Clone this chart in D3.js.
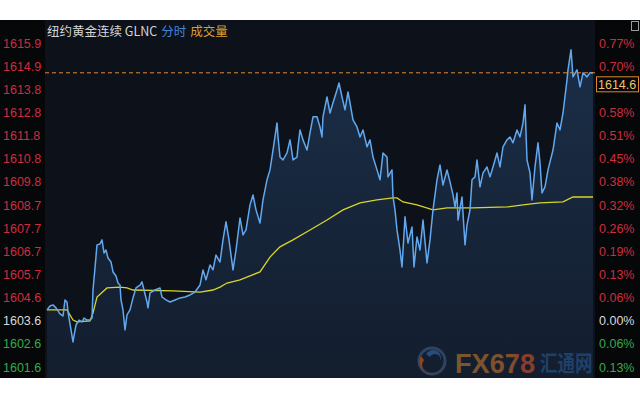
<!DOCTYPE html>
<html><head><meta charset="utf-8">
<script src="https://cdn.jsdelivr.net/npm/d3@7"></script>
<style>html,body{margin:0;padding:0;background:#fff;}svg{display:block;}</style>
</head><body>
<svg id="c" width="640" height="400"></svg>
<script>
// ---- data ----
const basePrice = 1603.6;
const tickStep = 1.025;
const leftTickLabels = ["1601.6","1602.6","1603.6","1604.6","1605.7","1606.7","1607.7","1608.7","1609.8","1610.8","1611.8","1612.8","1613.8","1614.9","1615.9"];
// 0.64% level is covered by the last-price box in the reference, so its label is left blank
const rightTickLabels = ["0.13%","0.06%","0.00%","0.06%","0.13%","0.19%","0.26%","0.32%","0.38%","0.45%","0.51%","0.58%","","0.70%","0.77%"];
const tickOffsets = [-2,-1,0,1,2,3,4,5,6,7,8,9,10,11,12];
const sessionLength = 548;
const priceTimes = [0,3,6,9,13,16,18,20,21,24,26,27,29,32,35,37,40,43,45,46,48,50,53,55,57,59,61,64,66,69,71,73,74,76,78,80,83,86,89,93,95,97,100,101,103,108,113,115,119,123,128,133,138,143,148,153,156,159,163,166,169,173,176,179,182,186,189,193,196,199,203,206,209,213,216,220,223,226,230,231,233,236,240,243,245,246,250,251,253,256,260,263,266,270,273,275,276,280,283,286,290,292,295,298,301,303,306,310,313,316,320,323,326,330,333,336,340,341,345,346,348,350,353,355,358,361,365,367,370,373,376,380,383,386,390,393,396,400,403,406,408,410,411,415,418,420,423,425,428,430,433,436,440,443,446,450,453,456,460,463,466,470,473,476,478,480,483,485,488,491,493,495,498,501,506,510,513,516,520,521,524,526,530,533,536,540,543,546];
const priceValues = [1604.08,1604.25,1604.30,1604.17,1603.90,1603.81,1604.52,1604.43,1603.99,1603.19,1602.66,1602.93,1603.41,1603.63,1603.55,1603.72,1603.63,1603.63,1603.72,1604.96,1605.94,1606.96,1607.00,1607.18,1606.60,1606.73,1606.38,1606.20,1605.76,1605.58,1605.27,1605.18,1604.52,1604.08,1603.19,1603.86,1604.08,1604.61,1605.05,1605.18,1605.32,1604.96,1604.43,1604.17,1604.83,1604.96,1605.05,1604.65,1604.52,1604.43,1604.52,1604.61,1604.65,1604.74,1604.87,1605.18,1605.85,1605.41,1606.07,1605.85,1606.51,1606.20,1607.18,1607.98,1607.18,1605.85,1606.73,1608.15,1607.40,1607.62,1608.73,1609.17,1608.51,1607.93,1608.95,1609.84,1610.28,1611.16,1612.36,1611.74,1610.85,1610.72,1611.03,1611.61,1611.03,1610.72,1610.85,1611.30,1612.05,1611.61,1611.16,1611.92,1612.63,1612.63,1612.18,1611.74,1612.63,1613.51,1612.80,1613.25,1613.82,1614.13,1613.51,1612.94,1613.73,1613.25,1612.49,1612.18,1611.74,1612.05,1611.30,1611.61,1610.85,1610.28,1609.84,1611.03,1610.85,1609.97,1610.28,1609.08,1608.51,1607.62,1606.73,1605.98,1608.20,1607.04,1607.75,1605.98,1607.31,1606.73,1608.06,1606.16,1607.18,1608.51,1609.84,1610.50,1609.61,1610.28,1609.75,1609.17,1608.64,1609.26,1608.06,1609.08,1606.96,1607.84,1608.51,1609.84,1609.97,1610.72,1609.53,1610.15,1610.41,1609.97,1610.41,1611.03,1610.41,1611.30,1611.61,1611.74,1611.48,1612.05,1611.74,1612.36,1613.16,1610.72,1610.15,1608.95,1610.41,1611.48,1610.59,1609.26,1609.53,1610.28,1611.16,1612.36,1612.05,1612.80,1614.27,1614.71,1615.60,1614.40,1614.71,1613.96,1614.58,1614.40,1614.58,1614.58];
const avgTimes = [0,20,26,30,43,46,50,60,73,80,86,126,153,166,173,180,193,213,223,233,246,263,280,296,313,330,346,350,356,370,386,400,426,460,476,493,516,526,546];
const avgValues = [1604.08,1604.08,1603.63,1603.55,1603.59,1603.94,1604.65,1605.05,1605.09,1605.05,1604.96,1604.92,1604.87,1604.96,1605.09,1605.27,1605.41,1605.76,1606.42,1606.87,1607.18,1607.62,1608.06,1608.51,1608.82,1608.95,1609.04,1609.04,1608.86,1608.73,1608.51,1608.60,1608.60,1608.64,1608.73,1608.82,1608.86,1609.08,1609.08];
const lastPriceLabel = "1614.6";
const titleParts = [
  {text:"纽约黄金连续 GLNC", color:"#d6d6d6"},
  {text:"分时", color:"#3f86dc"},
  {text:"成交量", color:"#d9a030"}
];

// ---- layout ----
const svg = d3.select("#c");
const topY = 20, bottomY = 378, plotL = 45, plotR = 595;
const font = "'Liberation Sans', Arial, sans-serif";

const x = d3.scaleLinear().domain([0, sessionLength]).range([47, 595]);
const y = d3.scaleLinear().domain([basePrice - 2*tickStep, basePrice + 12*tickStep]).range([367, 43]);

const defs = svg.append("defs");
const grad = defs.append("linearGradient").attr("id","ag").attr("x1",0).attr("y1",0).attr("x2",0).attr("y2",1);
grad.append("stop").attr("offset","0%").attr("stop-color","#27476e").attr("stop-opacity",0.55);
grad.append("stop").attr("offset","100%").attr("stop-color","#1b2d47").attr("stop-opacity",0.45);
const fxg = defs.append("linearGradient").attr("id","fxg").attr("x1",0).attr("y1",0).attr("x2",1).attr("y2",0);
fxg.append("stop").attr("offset","0%").attr("stop-color","#9c6a2c");
fxg.append("stop").attr("offset","70%").attr("stop-color","#a4602a");
fxg.append("stop").attr("offset","82%").attr("stop-color","#b2482a");
fxg.append("stop").attr("offset","100%").attr("stop-color","#b2482a");
defs.append("clipPath").attr("id","pc").append("rect").attr("x",plotL).attr("y",topY).attr("width",plotR-plotL).attr("height",bottomY-topY);

// backgrounds
svg.append("rect").attr("x",0).attr("y",topY).attr("width",640).attr("height",bottomY-topY).attr("fill","#060708");
svg.append("rect").attr("x",plotL).attr("y",topY).attr("width",plotR-plotL).attr("height",bottomY-topY).attr("fill","#0c111a");

const pricePts = priceTimes.map((t,i)=>[t, priceValues[i]]);
const avgPts = avgTimes.map((t,i)=>[t, avgValues[i]]);

const g = svg.append("g").attr("clip-path","url(#pc)");
g.append("path").datum(pricePts)
  .attr("d", d3.area().x(d=>x(d[0])).y0(bottomY).y1(d=>y(d[1])))
  .attr("fill","url(#ag)");

// watermark
const wm = svg.append("g").attr("opacity",0.75);
wm.append("circle").attr("cx",432).attr("cy",361).attr("r",13).attr("fill","none").attr("stroke","#3a4f70").attr("stroke-width",3);
wm.append("path").attr("d","M421,356 A12,12 0 0 0 436,373 A9,9 0 0 1 424,360 Z").attr("fill","#b8501e");
wm.append("path").attr("d","M426,354 A8,8 0 0 1 440,362 A5,5 0 0 0 430,357 Z").attr("fill","#2c5d9c");
wm.append("text").attr("x",455).attr("y",373).attr("font-family",font).attr("font-weight","bold")
  .attr("font-size",28).attr("textLength",80).attr("lengthAdjust","spacingAndGlyphs").attr("fill","url(#fxg)").text("FX678");
wm.append("text").attr("transform","translate(540,371) scale(1,1.25)").attr("font-family","'Noto Sans CJK SC', sans-serif").attr("font-weight","bold")
  .attr("font-size",17.5).attr("fill","#244c80").text("汇通网");

g.append("path").datum(avgPts)
  .attr("d", d3.line().x(d=>x(d[0])).y(d=>y(d[1])))
  .attr("fill","none").attr("stroke","#d8d42a").attr("stroke-width",1.3);
g.append("path").datum(pricePts)
  .attr("d", d3.line().x(d=>x(d[0])).y(d=>y(d[1])))
  .attr("fill","none").attr("stroke","#62a8ee").attr("stroke-width",1.5).attr("stroke-linejoin","round");

// last price dashed line
const lastP = priceValues[priceValues.length-1];
svg.append("line").attr("x1",plotL).attr("x2",plotR).attr("y1",y(lastP)).attr("y2",y(lastP))
  .attr("stroke","#e08a34").attr("stroke-width",1).attr("stroke-dasharray","4,3");

// axes labels
function colorFor(k){ return k>0 ? "#cf2c40" : (k<0 ? "#38a84c" : "#d8d8d8"); }
svg.append("g").selectAll("text").data(tickOffsets).join("text")
  .attr("x",3).attr("y",k=>y(basePrice+k*tickStep)+4.5)
  .attr("font-family",font).attr("font-size",12.5).attr("fill",colorFor)
  .text((k,i)=>leftTickLabels[i]);
svg.append("g").selectAll("text").data(tickOffsets.filter((k,i)=>rightTickLabels[i] !== "")).join("text")
  .attr("x",599).attr("y",k=>y(basePrice+k*tickStep)+4.5)
  .attr("font-family",font).attr("font-size",12.5).attr("fill",colorFor)
  .text(k=>rightTickLabels[tickOffsets.indexOf(k)]);

// last price box
const by = y(lastP)+4;
svg.append("rect").attr("x",596.5).attr("y",by).attr("width",42).attr("height",15)
  .attr("fill","#060708").attr("stroke","#d98a30").attr("stroke-width",1);
svg.append("text").attr("x",598).attr("y",by+12).attr("font-family",font).attr("font-size",12.5)
  .attr("fill","#f0c070").text(lastPriceLabel);

// title
const tt = svg.append("text").attr("x",47).attr("y",36).attr("font-family","'Noto Sans CJK SC', sans-serif").attr("font-size",12.5);
titleParts.forEach((p,i)=>{
  tt.append("tspan").attr("fill",p.color).attr("dx", i===0?0:4).text(p.text);
});

// top-right icon
svg.append("rect").attr("x",631.5).attr("y",21.5).attr("width",7).attr("height",9).attr("fill","none").attr("stroke","#9a9a9a");
</script>
</body></html>
